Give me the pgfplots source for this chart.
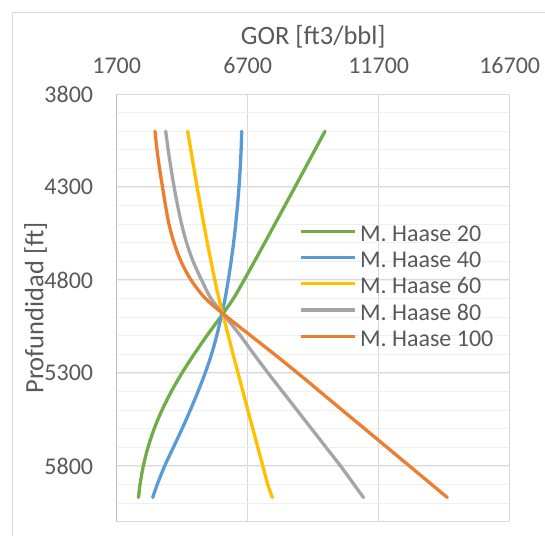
\documentclass[border=0pt]{standalone}
\usepackage{fontspec}
\setmainfont{Carlito}
\usepackage{pgfplots}
\pgfplotsset{compat=1.18}
\usepackage{pgfplotstable}

\definecolor{hgreen}{HTML}{70AD47}
\definecolor{hblue}{HTML}{5B9BD5}
\definecolor{hyellow}{HTML}{FFC000}
\definecolor{hgray}{HTML}{A5A5A5}
\definecolor{horange}{HTML}{ED7D31}
\definecolor{gridmajor}{HTML}{D9D9D9}
\definecolor{gridminor}{HTML}{F0F0F0}
\definecolor{axisgray}{HTML}{BFBFBF}
\definecolor{textgray}{HTML}{595959}

% profundidad [ft] vs GOR [ft3/bbl]
\pgfplotstableread{
depth g20  g40  g60  g80   g100
4000  9651 6471 4410 3570  3162
4100  9269 6448 4528 3665  3238
4200  8888 6414 4647 3772  3334
4300  8506 6368 4769 3891  3448
4400  8120 6311 4895 4024  3563
4500  7735 6242 5025 4177  3696
4600  7350 6162 5158 4368  3887
4700  6960 6067 5299 4616  4154
4800  6565 5960 5445 4940  4536
4900  6155 5838 5601 5300  5090
5000  5660 5685 5780 5860  5920
5100  5139 5517 5960 6425  6820
5200  4651 5319 6143 6941  7723
5300  4193 5078 6330 7475  8601
5400  3784 4803 6517 8029  9456
5500  3429 4509 6704 8582  10307
5600  3131 4196 6895 9136  11163
5700  2895 3864 7086 9689  12017
5800  2715 3532 7277 10242 12869
5900  2589 3246 7467 10758 13724
5970  2532 3074 7639 11120 14319
}\haase

\begin{document}
\begin{tikzpicture}[x=1pt,y=1pt]
\useasboundingbox (0,0) rectangle (545,536);
\draw[gridmajor, line width=1pt] (12.5,0) -- (12.5,523.5) -- (545,523.5);
\begin{axis}[
    at={(116.7pt,14.3pt)}, anchor=south west,
    scale only axis, width=393pt, height=427.7pt,
    xmin=1700, xmax=16700, ymin=3800, ymax=6100,
    y dir=reverse,
    xticklabel pos=upper,
    xtick={1700,6700,11700,16700},
    ytick={3800,4300,4800,5300,5800},
    minor ytick={3900,4000,...,6100},
    scaled ticks=false,
    /pgf/number format/1000 sep={},
    /pgf/number format/assume math mode=true,
    major tick length=0pt, minor tick length=0pt,
    xmajorgrids, ymajorgrids, yminorgrids,
    major grid style={gridmajor, line width=1pt},
    minor grid style={gridminor, line width=1.2pt},
    axis line style={gridmajor, line width=1pt},
    tick label style={font=\fontsize{24}{28}\selectfont, text=textgray, inner sep=0pt},
    xticklabel style={anchor=base, yshift=21pt},
    yticklabel style={anchor=east, xshift=-23.4pt},
    label style={font=\fontsize{26.5}{30}\selectfont, text=textgray, inner sep=0pt},
    xlabel={GOR [ft3/bbl]},
    xlabel style={at={(axis description cs:0.5,1.1169)}, anchor=base},
    ylabel={Profundidad [ft]},
    ylabel style={at={(axis description cs:-0.1868,0.5)}, anchor=base, rotate=0},
    legend style={at={(0.463,0.6918)}, anchor=north west, draw=none, fill=none,
        inner sep=0pt, row sep=8.75pt, column sep=4pt,
        font=\fontsize{24}{28}\selectfont, text=textgray,
        nodes={inner sep=0pt}},
    legend cell align=left,
    legend image code/.code={\draw[#1, line cap=butt] (0pt,0.3em) -- (54pt,0.3em);},
    every axis plot/.append style={line width=3.3pt, line cap=round, line join=round, smooth},
    extra description/.code={\draw[axisgray, line width=1pt] (rel axis cs:0,0) -- (rel axis cs:0,1);},
]
\addplot[hgreen] table[x=g20, y=depth] {\haase};
\addlegendentry{M. Haase 20}
\addplot[hblue] table[x=g40, y=depth] {\haase};
\addlegendentry{M. Haase 40}
\addplot[hyellow] table[x=g60, y=depth] {\haase};
\addlegendentry{M. Haase 60}
\addplot[hgray] table[x=g80, y=depth] {\haase};
\addlegendentry{M. Haase 80}
\addplot[horange] table[x=g100, y=depth] {\haase};
\addlegendentry{M. Haase 100}
\end{axis}
\end{tikzpicture}
\end{document}
